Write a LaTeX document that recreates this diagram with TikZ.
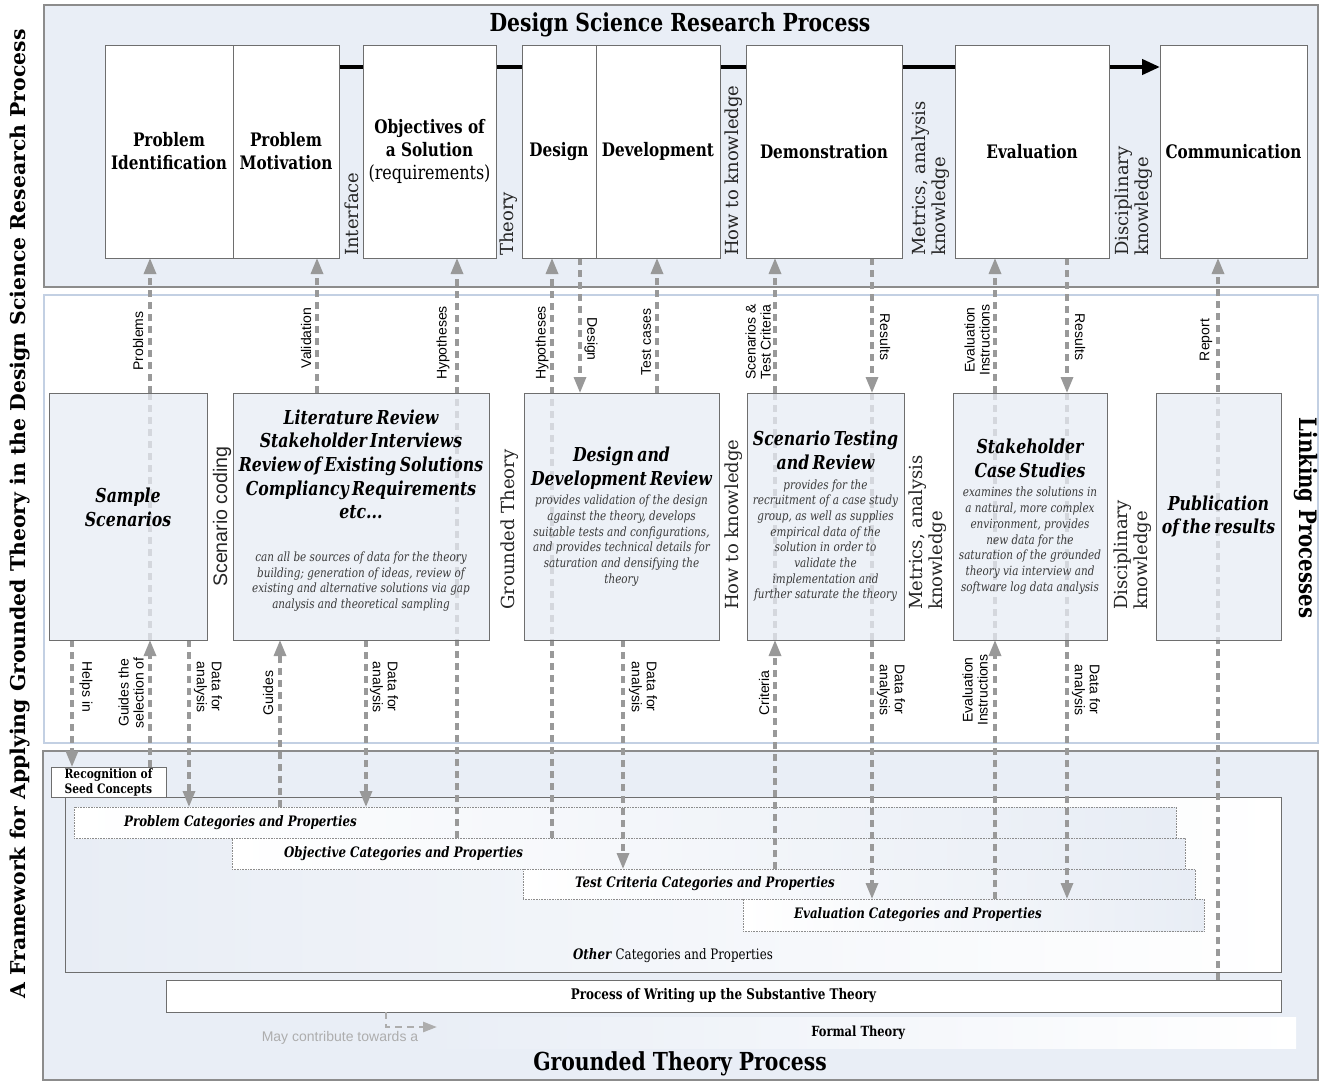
\documentclass[tikz,border=0pt]{standalone}
\usepackage{fontspec}
\setmainfont{DejaVu Serif}
\newfontfamily\narrowfont[FakeStretch=0.82]{DejaVu Serif}
\newfontfamily\sansfont{Liberation Sans}
\usetikzlibrary{arrows.meta,positioning}
\pgfdeclarelayer{bg}
\pgfdeclarelayer{front}
\pgfsetlayers{bg,main,front}
\definecolor{panelfill}{HTML}{E9EEF6}
\definecolor{panelline}{HTML}{8C8C8C}
\definecolor{linkline}{HTML}{C3D0E3}
\definecolor{boxfill}{HTML}{E8EDF5}
\definecolor{boxline}{HTML}{6E6E6E}
\definecolor{conncol}{HTML}{999999}
\definecolor{fadecol}{HTML}{ADADAD}
\definecolor{smallcol}{HTML}{3A3A3A}
\newcommand\boxtitle{\narrowfont\bfseries\fontsize{18.6}{23}\selectfont}
\newcommand\linktitle{\narrowfont\bfseries\itshape\fontsize{19.2}{23.6}\selectfont}
\newcommand\linksmall{\narrowfont\itshape\fontsize{12.7}{15.7}\selectfont\color{smallcol}}
\newcommand\catfont{\narrowfont\bfseries\itshape\fontsize{14.4}{16}\selectfont}
\newcommand\padbelow[1]{\par\vspace{#1}\hrule height 0pt width 0pt}

\begin{document}
\begin{tikzpicture}[x=1pt,y=-1pt,
  panel/.style={draw=panelline,line width=1.2pt,fill=panelfill},
  dsrbox/.style={draw=boxline,line width=1pt,fill=white,anchor=north west,minimum height=213pt,inner sep=0pt,outer sep=0pt,align=center,font=\boxtitle},
  linkbox/.style={draw=boxline,line width=1pt,fill=boxfill,fill opacity=0.75,text opacity=1,anchor=north west,minimum height=247pt,inner sep=0pt,outer sep=0pt,align=center},
  catbox/.style={draw=panelline,densely dotted,line width=0.6pt,left color=white,right color=boxfill,anchor=north west,inner sep=0pt,outer sep=0pt},
  cattext/.style={font=\catfont,inner sep=0pt,anchor=west},
  plainbox/.style={draw=boxline,line width=0.8pt,fill=white,anchor=north west,inner sep=0pt,outer sep=0pt},
  conn/.style={draw=conncol,line width=3.2pt,dash pattern=on 7pt off 5pt},
  tip/.style={-{Triangle[width=12pt,length=16pt]}},
  sidelbl/.style={font=\sansfont\fontsize{14}{15}\selectfont,inner sep=0pt,align=center},
  gaplbl/.style={font=\fontsize{18}{20}\selectfont,text=black!85,inner sep=0pt,align=left,rotate=90,anchor=west},
  ptitle/.style={font=\narrowfont\bfseries\fontsize{24.8}{26}\selectfont,inner sep=0pt}]
\useasboundingbox (0,0) rectangle (1320,1082);

\begin{pgfonlayer}{bg}
\draw[panel] (44,5) rectangle (1318,287);
\draw[draw=linkline,line width=1.5pt,fill=white] (44,295) rectangle (1318,743);
\draw[panel] (43,751) rectangle (1318,1080);
\end{pgfonlayer}

\node[ptitle] (dsrtitle) at (680,25) {Design Science Research Process};
\node[ptitle] (gttitle) at (680,1064) {Grounded Theory Process};
\node[rotate=90,font=\bfseries\fontsize{20.4}{21}\selectfont,inner sep=0pt] (frame) at (20,514)
  {A Framework for Applying Grounded Theory in the Design Science Research Process};
\node[rotate=-90,font=\narrowfont\bfseries\fontsize{24}{25}\selectfont,inner sep=0pt] (linking) at (1306,518) {Linking Processes};

\begin{pgfonlayer}{front}
\node[dsrbox,minimum width=128pt] (pid) at (105,45) {Problem\\Identification};
\node[dsrbox,minimum width=106pt] (pmo) at (233,45) {Problem\\Motivation};
\node[dsrbox,minimum width=133pt] (obj) at (363,45) {Objectives of\\a Solution\\{\mdseries\fontsize{19.5}{23}\selectfont (requirements)}};
\node[dsrbox,minimum width=74pt] (des) at (522,45) {Design};
\node[dsrbox,minimum width=124pt] (dev) at (596,45) {Development};
\node[dsrbox,minimum width=156pt] (dem) at (746,45) {Demonstration};
\node[dsrbox,minimum width=154pt] (eva) at (955,45) {Evaluation};
\node[dsrbox,minimum width=147pt] (com) at (1160,45) {Communication};

\node[linkbox,minimum width=158pt,text width=150pt] (ss) at (49,393)
  {{\linktitle Sample\\Scenarios\par}\padbelow{18pt}};
\node[linkbox,minimum width=256pt,text width=254pt] (lit) at (233,393)
  {{\linktitle Literature Review\\Stakeholder Interviews\\Review of Existing Solutions\\Compliancy Requirements\\etc...\par}\vspace{27pt}
   {\linksmall can all be sources of data for the theory\\building; generation of ideas, review of\\existing and alternative solutions via gap\\analysis and theoretical sampling\par}\padbelow{12pt}};
\node[linkbox,minimum width=195pt,text width=192pt] (ddr) at (524,393)
  {{\linktitle Design and\\Development Review\par}\vspace{4pt}
   {\linksmall provides validation of the design\\against the theory, develops\\suitable tests and configurations,\\and provides technical details for\\saturation and densifying the\\theory\par}};
\node[linkbox,minimum width=157pt,text width=155pt] (sct) at (747,393)
  {{\linktitle Scenario Testing\\and Review\par}\vspace{4pt}
   {\linksmall provides for the\\recruitment of a case study\\group, as well as supplies\\empirical data of the\\solution in order to\\validate the\\implementation and\\further saturate the theory\par}};
\node[linkbox,minimum width=154pt,text width=152pt] (stk) at (953,393)
  {{\linktitle Stakeholder\\Case Studies\par}\vspace{4pt}
   {\linksmall examines the solutions in\\a natural, more complex\\environment, provides\\new data for the\\saturation of the grounded\\theory via interview and\\software log data analysis\par}};
\node[linkbox,minimum width=125pt,text width=123pt] (pub) at (1156,393)
  {{\linktitle Publication\\of the results\par}};
\end{pgfonlayer}

\node[plainbox,minimum width=115pt,minimum height=30pt,align=left,font=\narrowfont\bfseries\fontsize{13}{15}\selectfont] (reco) at (51,767)
  {Recognition of\\Seed Concepts};
\node[plainbox,left color=boxfill,right color=white,minimum width=1216pt,minimum height=175pt] (oth) at (65,797) {};
\node[font=\narrowfont\fontsize{14.4}{16}\selectfont,inner sep=0pt] (othtxt) at (673,956) {\textbf{\textit{Other}} Categories and Properties};
\node[catbox,minimum width=1102pt,minimum height=31pt] (pcat) at (74,807) {};
\node[catbox,minimum width=953pt,minimum height=31pt] (ocat) at (232,838) {};
\node[catbox,minimum width=672pt,minimum height=30pt] (tcat) at (523,869) {};
\node[catbox,minimum width=461pt,minimum height=32pt] (ecat) at (743,899) {};
\node[cattext,right=50pt of pcat.west] (pcattxt) {Problem Categories and Properties};
\node[cattext,right=52pt of ocat.west] (ocattxt) {Objective Categories and Properties};
\node[cattext,right=52pt of tcat.west] (tcattxt) {Test Criteria Categories and Properties};
\node[cattext,right=51pt of ecat.west] (ecattxt) {Evaluation Categories and Properties};
\node[plainbox,minimum width=1115pt,minimum height=32pt,font=\narrowfont\bfseries\fontsize{14.6}{16}\selectfont] (wri) at (166,980)
  {Process of Writing up the Substantive Theory};
\node[left color=panelfill,right color=white,anchor=north west,minimum width=876pt,minimum height=31pt,inner sep=0pt,
  font=\narrowfont\bfseries\fontsize{14}{16}\selectfont] (formal) at (420,1017) {Formal Theory};

\coordinate (flowy) at (0,67);
\draw[line width=4.2pt,-{Triangle[width=15pt,length=18pt]}] (pmo.east |- flowy) -- (com.west |- flowy);

\coordinate (cHelp) at (72,0);
\coordinate (cProb) at (150,0);
\coordinate (cData1) at (189,0);
\coordinate (cGuid) at (280,0);
\coordinate (cVal) at (317,0);
\coordinate (cData2) at (366,0);
\coordinate (cHyp1) at (457,0);
\coordinate (cHyp2) at (552,0);
\coordinate (cDes) at (580,0);
\coordinate (cData3) at (623,0);
\coordinate (cTest) at (657,0);
\coordinate (cScen) at (775,0);
\coordinate (cRes1) at (872,0);
\coordinate (cEvI) at (995,0);
\coordinate (cRes2) at (1067,0);
\coordinate (cRep) at (1218,0);
\coordinate (cMay) at (386,0);
\coordinate (mayend) at (437,1027);

\draw[conn,tip] (reco.north -| cProb) -- (ss.south -| cProb);
\draw[conn] (ss.south -| cProb) -- (ss.north -| cProb);
\draw[conn,tip] (ss.north -| cProb) -- (pid.south -| cProb);
\draw[conn,tip] (ss.south -| cHelp) -- (reco.north -| cHelp);
\draw[conn,tip] (ss.south -| cData1) -- (pcat.north -| cData1);
\draw[conn,tip] (pcat.north -| cGuid) -- (lit.south -| cGuid);
\draw[conn,tip] (lit.north -| cVal) -- (pmo.south -| cVal);
\draw[conn,tip] (lit.south -| cData2) -- (pcat.north -| cData2);
\draw[conn,tip] (pcat.south -| cHyp1) -- (obj.south -| cHyp1);
\draw[conn,tip] (pcat.south -| cHyp2) -- (des.south -| cHyp2);
\draw[conn,tip] (des.south -| cDes) -- (ddr.north -| cDes);
\draw[conn,tip] (ddr.north -| cTest) -- (dev.south -| cTest);
\draw[conn,tip] (ddr.south -| cData3) -- (ocat.south -| cData3);
\draw[conn,tip] (tcat.north -| cScen) -- (sct.south -| cScen);
\draw[conn] (sct.south -| cScen) -- (sct.north -| cScen);
\draw[conn,tip] (sct.north -| cScen) -- (dem.south -| cScen);
\draw[conn,tip] (dem.south -| cRes1) -- (sct.north -| cRes1);
\draw[conn] (sct.north -| cRes1) -- (sct.south -| cRes1);
\draw[conn,tip] (sct.south -| cRes1) -- (ecat.north -| cRes1);
\draw[conn,tip] (ecat.north -| cEvI) -- (stk.south -| cEvI);
\draw[conn] (stk.south -| cEvI) -- (stk.north -| cEvI);
\draw[conn,tip] (stk.north -| cEvI) -- (eva.south -| cEvI);
\draw[conn,tip] (eva.south -| cRes2) -- (stk.north -| cRes2);
\draw[conn] (stk.north -| cRes2) -- (stk.south -| cRes2);
\draw[conn,tip] (stk.south -| cRes2) -- (ecat.north -| cRes2);
\draw[conn,tip] (wri.north -| cRep) -- (com.south -| cRep);
\draw[conn,draw=fadecol,line width=2.6pt,-{Triangle[width=10pt,length=14pt]}] (wri.south -| cMay) |- (mayend);
\node[font=\sansfont\fontsize{14}{15}\selectfont,text=fadecol,inner sep=0pt] (maytxt) at (340,1038) {May contribute towards a};

\node[sidelbl,rotate=90] (lProb) at (138,341) {Problems};
\node[sidelbl,rotate=90] (lVal) at (306,338) {Validation};
\node[sidelbl,rotate=90] (lHyp1) at (443,343) {Hypotheses};
\node[sidelbl,rotate=90] (lHyp2) at (542,343) {Hypotheses};
\node[sidelbl,rotate=-90] (lDes) at (591,339) {Design};
\node[sidelbl,rotate=90] (lTest) at (646,342) {Test cases};
\node[sidelbl,rotate=90,align=left] (lScen) at (758,342) {Scenarios \&\\Test Criteria};
\node[sidelbl,rotate=-90] (lRes1) at (885,337) {Results};
\node[sidelbl,rotate=90] (lEvI1) at (977,340) {Evaluation\\Instructions};
\node[sidelbl,rotate=-90] (lRes2) at (1080,337) {Results};
\node[sidelbl,rotate=90] (lRep) at (1206,340) {Report};

\node[sidelbl,rotate=-90,align=left] (lHelp) at (86,687) {Helps in};
\node[sidelbl,rotate=90] (lGsel) at (131,693) {Guides the\\selection of};
\node[sidelbl,rotate=-90,align=left] (lDat1) at (208,687) {Data for\\analysis};
\node[sidelbl,rotate=90] (lGuid) at (268,693) {Guides};
\node[sidelbl,rotate=-90,align=left] (lDat2) at (384,687) {Data for\\analysis};
\node[sidelbl,rotate=-90,align=left] (lDat3) at (643,687) {Data for\\analysis};
\node[sidelbl,rotate=90] (lCrit) at (764,693) {Criteria};
\node[sidelbl,rotate=-90,align=left] (lDat4) at (891,690) {Data for\\analysis};
\node[sidelbl,rotate=90] (lEvI2) at (975,690) {Evaluation\\Instructions};
\node[sidelbl,rotate=-90,align=left] (lDat5) at (1086,690) {Data for\\analysis};

\node[gaplbl] (lIface) at (352,256) {Interface};
\node[gaplbl] (lTheo) at (509,256) {Theory};
\node[gaplbl] (lHow1) at (734,256) {How to knowledge};
\node[gaplbl] (lMet1) at (931,256) {Metrics, analysis\\knowledge};
\node[gaplbl] (lDis1) at (1134,256) {Disciplinary\\knowledge};
\node[gaplbl,font=\sansfont\fontsize{19.6}{20}\selectfont] (lScod) at (222,587) {Scenario coding};
\node[gaplbl] (lGT) at (510,610) {Grounded Theory};
\node[gaplbl] (lHow2) at (734,610) {How to knowledge};
\node[gaplbl] (lMet2) at (928,610) {Metrics, analysis\\knowledge};
\node[gaplbl] (lDis2) at (1133,610) {Disciplinary\\knowledge};
\end{tikzpicture}
\end{document}
